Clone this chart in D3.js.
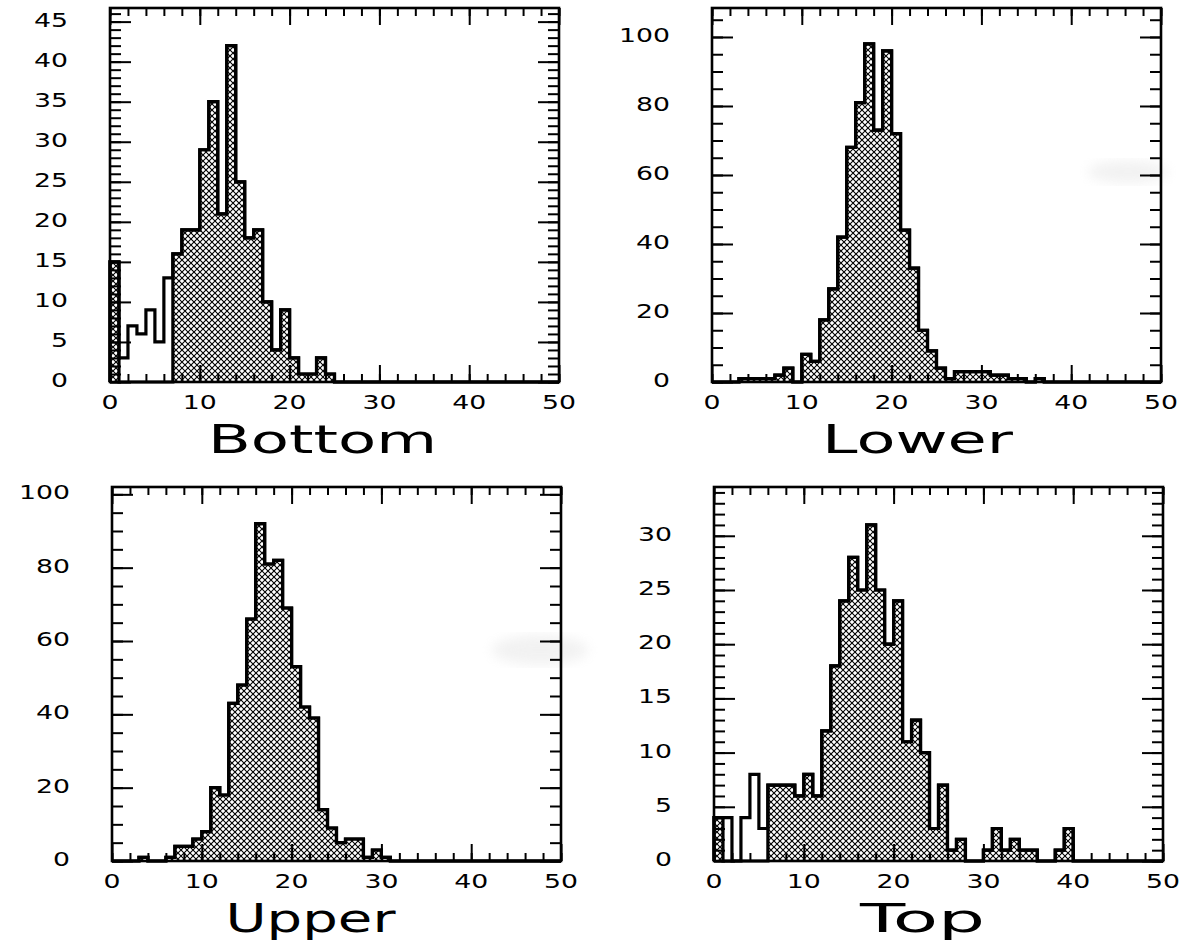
<!DOCTYPE html>
<html>
<head>
<meta charset="utf-8">
<script src="https://d3js.org/d3.v7.min.js"></script>
<style>
  body { margin: 0; background: #fff; }
  svg { display: block; }
  .lbl { font-family: "DejaVu Sans", sans-serif; fill: #000; }
  .ttl { font-family: "DejaVu Sans", sans-serif; fill: #000; }
</style>
</head>
<body>
<svg id="chart" width="1193" height="943"></svg>
<script>
"use strict";

// 50 bins of width 1 from 0 to 50
const binStarts = d3.range(0, 50);
const xLabels = [0, 10, 20, 30, 40, 50];

// Bottom
const bottomCounts = [15, 3, 7, 6, 9, 5, 13, 16, 19, 19, 29, 35, 21, 42, 25, 18, 19, 10, 4, 9,
    3, 1, 1, 3, 1, 0, 0, 0, 0, 0, 0, 0, 0, 0, 0, 0, 0, 0, 0, 0,
    0, 0, 0, 0, 0, 0, 0, 0, 0, 0];
const bottomHatched = [15, 0, 0, 0, 0, 0, 0, 16, 19, 19, 29, 35, 21, 42, 25, 18, 19, 10, 4, 9,
    3, 1, 1, 3, 1, 0, 0, 0, 0, 0, 0, 0, 0, 0, 0, 0, 0, 0, 0, 0,
    0, 0, 0, 0, 0, 0, 0, 0, 0, 0];
const bottomYLabels = [0, 5, 10, 15, 20, 25, 30, 35, 40, 45];

// Lower
const lowerCounts = [0, 0, 0, 1, 1, 1, 1, 2, 4, 0, 8, 6, 18, 27, 42, 68, 81, 98, 73, 96,
    72, 44, 33, 15, 9, 4, 1, 3, 3, 3, 3, 2, 2, 1, 1, 0, 1, 0, 0, 0,
    0, 0, 0, 0, 0, 0, 0, 0, 0, 0];
const lowerYLabels = [0, 20, 40, 60, 80, 100];

// Upper
const upperCounts = [0, 0, 0, 1, 0, 0, 1, 4, 4, 6, 8, 20, 18, 43, 48, 66, 92, 81, 82, 69,
    53, 42, 39, 14, 9, 5, 6, 6, 1, 3, 1, 0, 0, 0, 0, 0, 0, 0, 0, 0,
    0, 0, 0, 0, 0, 0, 0, 0, 0, 0];
const upperYLabels = [0, 20, 40, 60, 80, 100];

// Top
const topCounts = [4, 4, 0, 4, 8, 3, 7, 7, 7, 6, 8, 6, 12, 18, 24, 28, 25, 31, 25, 20,
    24, 11, 13, 10, 3, 7, 1, 2, 0, 0, 1, 3, 1, 2, 1, 1, 0, 0, 1, 3,
    0, 0, 0, 0, 0, 0, 0, 0, 0, 0];
const topHatched = [4, 0, 0, 0, 0, 0, 7, 7, 7, 6, 8, 6, 12, 18, 24, 28, 25, 31, 25, 20,
    24, 11, 13, 10, 3, 7, 1, 2, 0, 0, 1, 3, 1, 2, 1, 1, 0, 0, 1, 3,
    0, 0, 0, 0, 0, 0, 0, 0, 0, 0];
const topYLabels = [0, 5, 10, 15, 20, 25, 30];

const width = 449, height = 374;

const panels = [
    { title: "Bottom", counts: bottomCounts, hatched: bottomHatched, yLabels: bottomYLabels,
      yMax: 46.7, yMinor: 1, left: 110, top: 8, titleDx: -12, titleLen: 229 },
    { title: "Lower", counts: lowerCounts, hatched: lowerCounts, yLabels: lowerYLabels,
      yMax: 108.4, yMinor: 5, left: 712, top: 8, titleDx: -19, titleLen: 191 },
    { title: "Upper", counts: upperCounts, hatched: upperCounts, yLabels: upperYLabels,
      yMax: 102, yMinor: 5, left: 112, top: 487, titleDx: -26, titleLen: 170 },
    { title: "Top", counts: topCounts, hatched: topHatched, yLabels: topYLabels,
      yMax: 34.5, yMinor: 1, left: 714, top: 487, titleDx: -16, titleLen: 125 }
];

const svg = d3.select("#chart");
const defs = svg.append("defs");

// cross hatch fill
const pat = defs.append("pattern")
    .attr("id", "xhatch")
    .attr("patternUnits", "userSpaceOnUse")
    .attr("width", 6)
    .attr("height", 6);
pat.append("rect").attr("width", 6).attr("height", 6).attr("fill", "#fff");
pat.append("path")
    .attr("d", "M0,0L6,6M6,0L0,6")
    .attr("stroke", "#000")
    .attr("stroke-width", 1.1);

defs.append("filter").attr("id", "blur")
    .append("feGaussianBlur").attr("stdDeviation", 6);

// faint grey smudges of the scanned original
svg.append("ellipse").attr("cx", 1128).attr("cy", 172).attr("rx", 40).attr("ry", 11)
    .attr("fill", "#e2e2e2").attr("opacity", 0.45).attr("filter", "url(#blur)");
svg.append("ellipse").attr("cx", 540).attr("cy", 650).attr("rx", 48).attr("ry", 15)
    .attr("fill", "#e2e2e2").attr("opacity", 0.45).attr("filter", "url(#blur)");

function histPoints(counts) {
    let pts = binStarts.map(function (b, i) { return { x: b, y: counts[i] } });
    pts.push({ x: 50, y: counts[counts.length - 1] });
    return pts;
}

function drawTicks(g, axisFn, scale, values, size) {
    g.call(axisFn(scale).tickValues(values).tickSize(size).tickFormat(""))
        .call(function (a) { a.select(".domain").remove() });
    g.selectAll(".tick line")
        .attr("stroke", "#000")
        .attr("stroke-width", 2);
}

panels.forEach(function (p) {
    let g = svg.append("g").attr("transform", "translate(" + p.left + "," + p.top + ")");

    let x = d3.scaleLinear().domain([0, 50]).range([0, width]);
    let y = d3.scaleLinear().domain([0, p.yMax]).range([height, 0]);

    // hatched area
    let area = d3.area()
        .curve(d3.curveStepAfter)
        .x(function (d) { return x(d.x) })
        .y0(y(0))
        .y1(function (d) { return y(d.y) });
    g.append("path")
        .datum(histPoints(p.hatched))
        .attr("d", area)
        .attr("fill", "url(#xhatch)");

    // outlines
    let line = d3.line()
        .curve(d3.curveStepAfter)
        .x(function (d) { return x(d.x) })
        .y(function (d) { return y(d.y) });
    [p.hatched, p.counts].forEach(function (c) {
        let pts = [{ x: 0, y: 0 }].concat(histPoints(c), [{ x: 50, y: 0 }]);
        g.append("path")
            .datum(pts)
            .attr("d", line)
            .attr("fill", "none")
            .attr("stroke", "#000")
            .attr("stroke-width", 3.2)
            .attr("stroke-linejoin", "miter");
    });

    // ticks on all four sides, pointing in
    let xMinor = d3.range(0, 51, 2);
    let xMajor = xLabels;
    let yMinor = d3.range(0, p.yMax, p.yMinor);
    let yMajor = p.yLabels;

    drawTicks(g.append("g").attr("transform", "translate(0," + height + ")"), d3.axisBottom, x, xMinor, -8);
    drawTicks(g.append("g").attr("transform", "translate(0," + height + ")"), d3.axisBottom, x, xMajor, -17);
    drawTicks(g.append("g"), d3.axisTop, x, xMinor, -8);
    drawTicks(g.append("g"), d3.axisTop, x, xMajor, -17);
    drawTicks(g.append("g"), d3.axisLeft, y, yMinor, -11);
    drawTicks(g.append("g"), d3.axisLeft, y, yMajor, -21);
    drawTicks(g.append("g").attr("transform", "translate(" + width + ",0)"), d3.axisRight, y, yMinor, -11);
    drawTicks(g.append("g").attr("transform", "translate(" + width + ",0)"), d3.axisRight, y, yMajor, -21);

    // frame
    g.append("rect")
        .attr("width", width)
        .attr("height", height)
        .attr("fill", "none")
        .attr("stroke", "#000")
        .attr("stroke-width", 2.6);

    // tick labels
    g.selectAll(".ylbl")
        .data(yMajor)
        .enter().append("text")
        .attr("class", "lbl")
        .attr("x", -42)
        .attr("y", function (d) { return y(d) - 2 })
        .attr("dominant-baseline", "central")
        .attr("text-anchor", "end")
        .attr("font-size", 20)
        .attr("textLength", function (d) { return String(d).length * 17 })
        .attr("lengthAdjust", "spacingAndGlyphs")
        .text(function (d) { return d });

    g.selectAll(".xlbl")
        .data(xLabels)
        .enter().append("text")
        .attr("class", "lbl")
        .attr("x", function (d) { return x(d) })
        .attr("y", height + 20)
        .attr("dominant-baseline", "central")
        .attr("text-anchor", "middle")
        .attr("font-size", 20)
        .attr("textLength", function (d) { return String(d).length * 17 })
        .attr("lengthAdjust", "spacingAndGlyphs")
        .text(function (d) { return d });

    // axis title
    g.append("text")
        .attr("class", "ttl")
        .attr("x", width / 2 + p.titleDx)
        .attr("y", height + 71)
        .attr("text-anchor", "middle")
        .attr("font-size", 39)
        .attr("textLength", p.titleLen)
        .attr("lengthAdjust", "spacingAndGlyphs")
        .text(p.title);
});
</script>
</body>
</html>
